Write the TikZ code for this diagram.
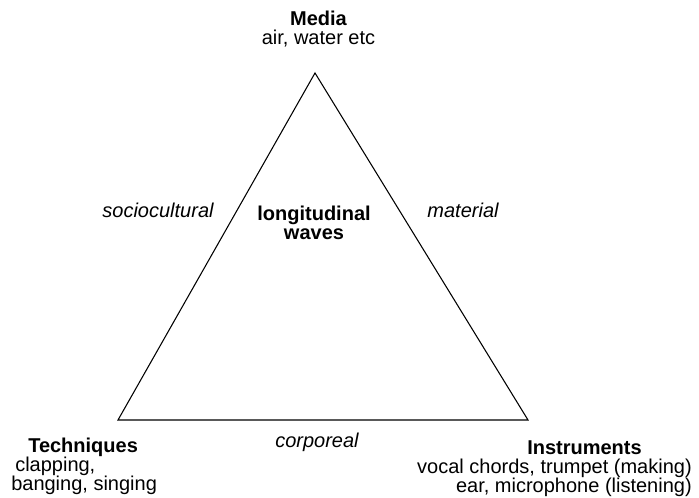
\documentclass[tikz,border=0pt]{standalone}
\usepackage{fontspec}
\setmainfont{Liberation Sans}
\setlength{\lineskiplimit}{-100pt}
\begin{document}
\begin{tikzpicture}[x=0.75pt,y=-0.75pt,
  lab/.style={font=\fontsize{15}{14}\selectfont, inner sep=0pt, anchor=base},
  edge/.style={line width=0.8pt, line join=miter}]
\useasboundingbox (0,0) rectangle (699,498);
\coordinate (M) at (315,73);
\coordinate (T) at (118,420);
\coordinate (I) at (528,420);
\draw[edge] (M) -- (T) -- (I) -- cycle;
% multi-line nodes: base anchor sits on the last line's baseline
\node[lab, align=center] (media) at (318.5,44.5) {\textbf{Media}\\air, water etc};
\node[lab] (socio) at (158,218) {\itshape sociocultural};
\node[lab, align=center] (waves) at (314,239.5) {\textbf{longitudinal}\\\textbf{waves}};
\node[lab] (mat) at (463,218) {\itshape material};
\node[lab] (corp) at (317,447) {\itshape corporeal};
\node[lab, align=left, anchor=base west] (tech) at (11,490) {\hspace*{12.75pt}\textbf{Techniques}\\\hspace*{3pt}clapping,\\banging, singing};
\node[lab, align=right, anchor=base east] (inst) at (692,492) {\textbf{Instruments}\hspace*{37.5pt}\\vocal chords, trumpet (making)\\ear, microphone (listening)};
\end{tikzpicture}
\end{document}
